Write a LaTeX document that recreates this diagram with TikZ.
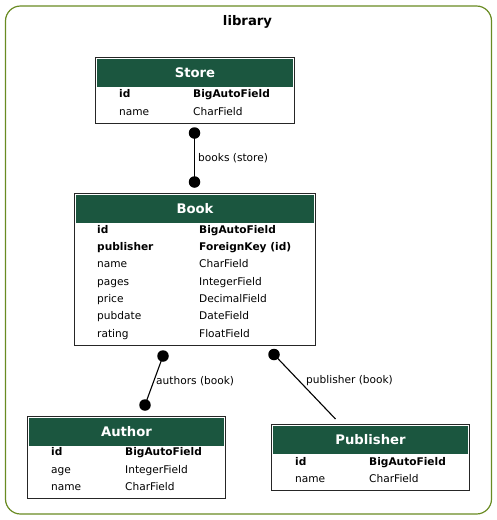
\documentclass[tikz,border=0pt]{standalone}
\usepackage{fontspec}
\setmainfont{DejaVu Sans}
\definecolor{hdrgreen}{HTML}{1B563F}
\definecolor{clustercol}{HTML}{698B22}
\newcommand{\fldfont}{\fontsize{10.6pt}{12pt}\selectfont}
\newcommand{\hdrfont}{\fontsize{13.2pt}{15pt}\selectfont\bfseries}
\tikzset{
  tbl/.style={draw=black!85, line width=1.2pt, fill=white, inner sep=0pt, anchor=north west},
  hdr/.style={fill=hdrgreen, draw=none, inner sep=0pt, anchor=north west, text=white, font=\hdrfont},
  fld/.style={anchor=west, inner sep=0pt, font=\fldfont, text height=8pt, text depth=2.2pt, yshift=-1.5pt},
  fldb/.style={fld, font=\fldfont\bfseries},
  dotn/.style={circle, fill=black, inner sep=0pt, minimum size=11.5pt},
  conn/.style={line width=1.1pt, draw=black},
  lbl/.style={anchor=west, inner sep=0pt, font=\fldfont, text height=8pt, text depth=2.2pt, yshift=-1.5pt},
}
\begin{document}
\begin{tikzpicture}[x=1pt,y=-1pt]
\useasboundingbox (0,0) rectangle (497,520);
% cluster
\draw[clustercol, line width=1.2pt, rounded corners=15pt] (5.5,6) rectangle (491.5,514) ;
\node[font=\hdrfont, inner sep=0pt] (ctitle) at (247.5,21.5) {library};

% Store
\node[tbl, minimum width=199pt, minimum height=66pt] (store) at (95,57) {};
\node[hdr, minimum width=196pt, minimum height=28pt] (storeh) at (96.8,58.8) {Store};
\node[fldb] (s1a) at (119,93) {id};
\node[fldb] (s1b) at (193,93) {BigAutoField};
\node[fld] (s2a) at (119,111) {name};
\node[fld] (s2b) at (193,111) {CharField};

% Book
\node[tbl, minimum width=241pt, minimum height=152pt] (book) at (74,193) {};
\node[hdr, minimum width=238pt, minimum height=28pt] (bookh) at (75.8,194.8) {Book};
\node[fldb] (b1a) at (97,229) {id};
\node[fldb] (b1b) at (199,229) {BigAutoField};
\node[fldb] (b2a) at (97,246) {publisher};
\node[fldb] (b2b) at (199,246) {ForeignKey (id)};
\node[fld] (b3a) at (97,263.5) {name};
\node[fld] (b3b) at (199,263.5) {CharField};
\node[fld] (b4a) at (97,281) {pages};
\node[fld] (b4b) at (199,281) {IntegerField};
\node[fld] (b5a) at (97,298) {price};
\node[fld] (b5b) at (199,298) {DecimalField};
\node[fld] (b6a) at (97,315.5) {pubdate};
\node[fld] (b6b) at (199,315.5) {DateField};
\node[fld] (b7a) at (97,333) {rating};
\node[fld] (b7b) at (199,333) {FloatField};

% Author
\node[tbl, minimum width=198pt, minimum height=82pt] (author) at (27,415.5) {};
\node[hdr, minimum width=195pt, minimum height=28pt] (authorh) at (28.8,417.3) {Author};
\node[fldb] (a1a) at (51,451.5) {id};
\node[fldb] (a1b) at (125,451.5) {BigAutoField};
\node[fld] (a2a) at (51,469) {age};
\node[fld] (a2b) at (125,469) {IntegerField};
\node[fld] (a3a) at (51,486.5) {name};
\node[fld] (a3b) at (125,486.5) {CharField};

% Publisher
\node[tbl, minimum width=198pt, minimum height=66pt] (pub) at (271,424) {};
\node[hdr, minimum width=195pt, minimum height=28pt] (pubh) at (272.8,425.8) {Publisher};
\node[fldb] (p1a) at (295,461) {id};
\node[fldb] (p1b) at (369,461) {BigAutoField};
\node[fld] (p2a) at (295,478.5) {name};
\node[fld] (p2b) at (369,478.5) {CharField};

% connectors
\node[dotn] (d1) at (194.5,133) {};
\node[dotn] (d2) at (194.5,182) {};
\draw[conn] (d1.center) -- (d2.center);
\node[lbl] (l1) at (198,157) {books (store)};

\node[dotn] (d3) at (163,356) {};
\node[dotn] (d4) at (145,405) {};
\draw[conn] (d3.center) -- (d4.center);
\node[lbl] (l2) at (156,380) {authors (book)};

\node[dotn] (d5) at (274,354.5) {};
\coordinate (e5) at (335.5,419);
\draw[conn] (d5.center) -- (e5);
\node[lbl] (l3) at (306,379.5) {publisher (book)};
\end{tikzpicture}
\end{document}
